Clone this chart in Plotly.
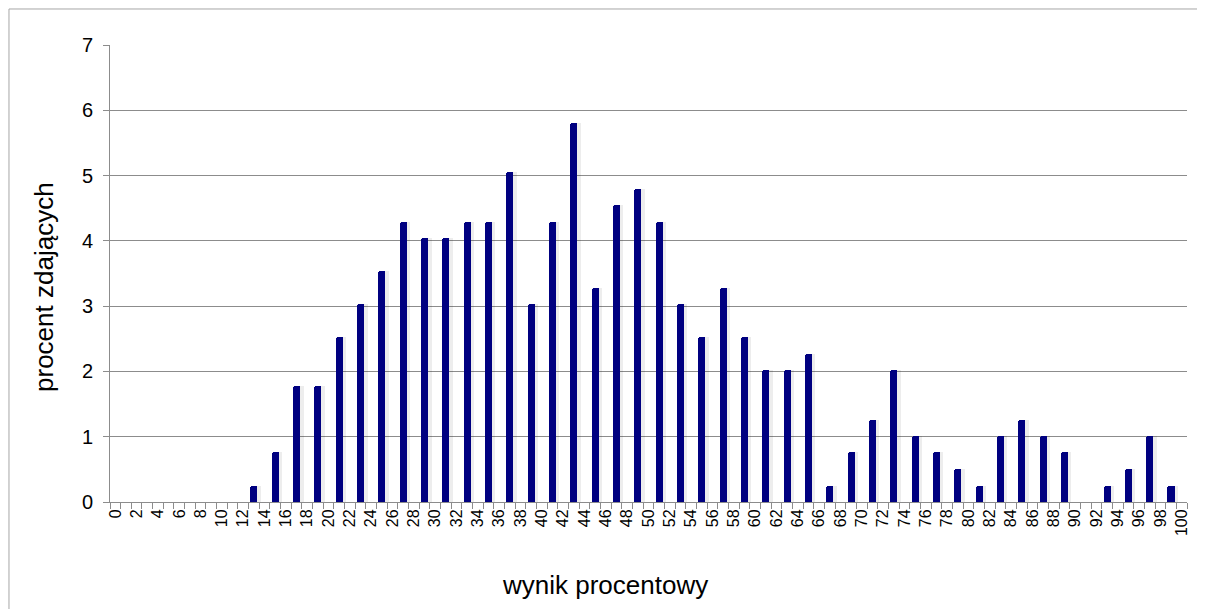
import plotly.graph_objects as go

# wynik procentowy (odd scores where bars are drawn)
scores = [13, 15, 17, 19, 21, 23, 25, 27, 29, 31, 33, 35, 37, 39, 41, 43, 45, 47, 49, 51,
          53, 55, 57, 59, 61, 63, 65, 67, 69, 71, 73, 75, 77, 79, 81, 83, 85, 87, 89, 91,
          93, 95, 97, 99]
# procent zdających
percents = [0.25, 0.76, 1.77, 1.77, 2.53, 3.03, 3.54, 4.29, 4.04, 4.04, 4.29, 4.29, 5.05, 3.03,
            4.29, 5.81, 3.28, 4.55, 4.80, 4.29, 3.03, 2.53, 3.28, 2.53, 2.02, 2.02, 2.27, 0.25,
            0.76, 1.26, 2.02, 1.01, 0.76, 0.51, 0.25, 1.01, 1.26, 1.01, 0.76, 0.0, 0.25, 0.51,
            1.01, 0.25]
tick_labels = [str(v) for v in range(0, 101, 2)]
tick_positions = list(range(0, 101, 2))

FONT = "Liberation Sans, Arial, sans-serif"

fig = go.Figure()
# soft shadow
fig.add_trace(go.Bar(x=scores, y=percents, width=0.95, offset=-0.3,
                     marker=dict(color="rgba(0,0,0,0.07)", line=dict(width=0)),
                     hoverinfo="skip", showlegend=False))
fig.add_trace(go.Bar(x=scores, y=percents, width=0.66,
                     marker=dict(color="#000080", line=dict(width=0), cornerradius=2),
                     showlegend=False))

fig.update_layout(
    width=1197, height=601,
    margin=dict(l=102, r=18, t=37, b=107),
    paper_bgcolor="white", plot_bgcolor="white",
    barmode="overlay", bargap=0,
    font=dict(family=FONT, color="black"),
    shapes=[dict(type="rect", xref="paper", yref="paper",
                 x0=-0.0938, x1=1.2, y0=-0.4, y1=1.0788,
                 line=dict(color="#a6a6a6", width=1), fillcolor="rgba(0,0,0,0)", layer="below")],
    annotations=[
        dict(text="wynik procentowy", xref="paper", yref="paper", x=0.4596, y=-0.1816,
             xanchor="center", yanchor="middle", showarrow=False,
             font=dict(family=FONT, size=26, color="black")),
        dict(text="procent zdających", xref="paper", yref="paper", x=-0.0613, y=0.4705,
             xanchor="center", yanchor="middle", showarrow=False, textangle=-90,
             font=dict(family=FONT, size=26, color="black")),
    ],
)
fig.update_xaxes(
    range=[-0.5, 100.5], tickmode="array", tickvals=tick_positions, ticktext=tick_labels,
    tickangle=-90, tickfont=dict(family=FONT, size=16, color="black"), ticks="",
    showgrid=False, zeroline=False, showline=True, linecolor="#8c8c8c", linewidth=1,
    minor=dict(tickmode="linear", tick0=-0.5, dtick=1, ticks="outside", ticklen=6,
               tickcolor="#8c8c8c", tickwidth=1, showgrid=False),
    fixedrange=True,
)
fig.update_yaxes(
    range=[0, 7], tickmode="linear", tick0=0, dtick=1,
    tickfont=dict(family=FONT, size=20, color="black"), ticklabelstandoff=6,
    ticks="outside", ticklen=6, tickcolor="#8c8c8c",
    showgrid=True, gridcolor="#8c8c8c", gridwidth=1, zeroline=False,
    showline=True, linecolor="#8c8c8c", linewidth=1, fixedrange=True,
)

fig.write_html("out.html")
